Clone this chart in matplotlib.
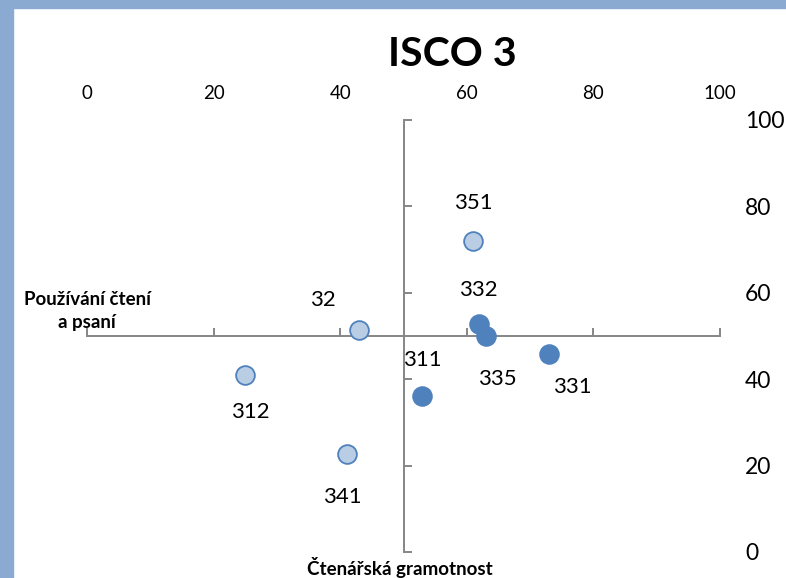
import matplotlib
matplotlib.use("Agg")
import matplotlib.pyplot as plt
from matplotlib.patches import Rectangle

# ISCO 3 sub-groups: reading literacy (x) vs use of reading/writing (y)
codes = ["351", "32", "312", "341", "332", "335", "331", "311"]
lit = [61.0, 43.0, 25.0, 41.0, 61.9, 63.0, 73.0, 53.0]
use = [72.1, 51.3, 41.0, 22.7, 52.7, 50.1, 45.8, 36.1]
dark = [False, False, False, False, True, True, True, True]
ticks = [0, 20, 40, 60, 80, 100]

# label offsets (points) relative to each marker
OFF = {"351": (0, 27), "32": (-26, 22), "312": (3.5, -26.5), "341": (-3, -31),
       "332": (0, 24.5), "335": (8, -31), "331": (16.5, -24), "311": (0, 26)}

FONT = "Lato"
BLUE, LIGHT, GREY = "#4F81BD", "#B9CDE5", "#868686"

fig = plt.figure(figsize=(7.86, 5.78), dpi=100)
W, H = 786, 578
fig.patches.append(Rectangle((0, 0), 13 / W, 1, transform=fig.transFigure,
                             color="#8AAAD2", zorder=0))
fig.patches.append(Rectangle((0, 1 - 8 / H), 1, 8 / H, transform=fig.transFigure,
                             color="#8AAAD2", zorder=0))

ax = fig.add_axes([87 / W, (H - 552) / H, 633 / W, 432 / H])
ax.set_facecolor("none")
ax.set_xlim(0, 100); ax.set_ylim(0, 100)
for s in ["top", "right"]:
    ax.spines[s].set_visible(False)
for s in ["left", "bottom"]:
    ax.spines[s].set_position(("data", 50))
    ax.spines[s].set_color(GREY); ax.spines[s].set_linewidth(1.4)
ax.set_xticks(ticks); ax.set_yticks(ticks)
ax.tick_params(direction="in", length=6, width=1.4, color=GREY,
               labelbottom=False, labelleft=False)

top = ax.secondary_xaxis("top")
top.set_xticks(ticks)
top.tick_params(length=0, pad=13, labelsize=13.5)
top.spines["top"].set_visible(False)
for t in top.get_xticklabels(): t.set_family(FONT)

right = ax.secondary_yaxis("right")
right.set_yticks(ticks)
right.tick_params(length=0, pad=18, labelsize=16.5)
right.spines["right"].set_visible(False)
for t in right.get_yticklabels(): t.set_family(FONT)

for c, x, y, d in zip(codes, lit, use, dark):
    ax.plot(x, y, "o", ms=13.5, mfc=BLUE if d else LIGHT, mec=BLUE, mew=1.3,
            zorder=3, clip_on=False)
    ax.annotate(c, (x, y), xytext=OFF[c], textcoords="offset points",
                ha="center", va="center", fontsize=16, family=FONT)

ax.text(0, 55.8, "Používání čtení\na psaní", ha="center", va="center",
        fontsize=13.5, fontweight="bold", family=FONT, linespacing=1.45)
ax.text(49.4, -3.5, "Čtenářská gramotnost", ha="center", va="center",
        fontsize=13.5, fontweight="bold", family=FONT, clip_on=False)
fig.text(452 / W, 1 - 55 / H, "ISCO 3", ha="center", va="center",
         fontsize=29.5, fontweight="bold", family=FONT)

fig.savefig("out.png", dpi=100)
